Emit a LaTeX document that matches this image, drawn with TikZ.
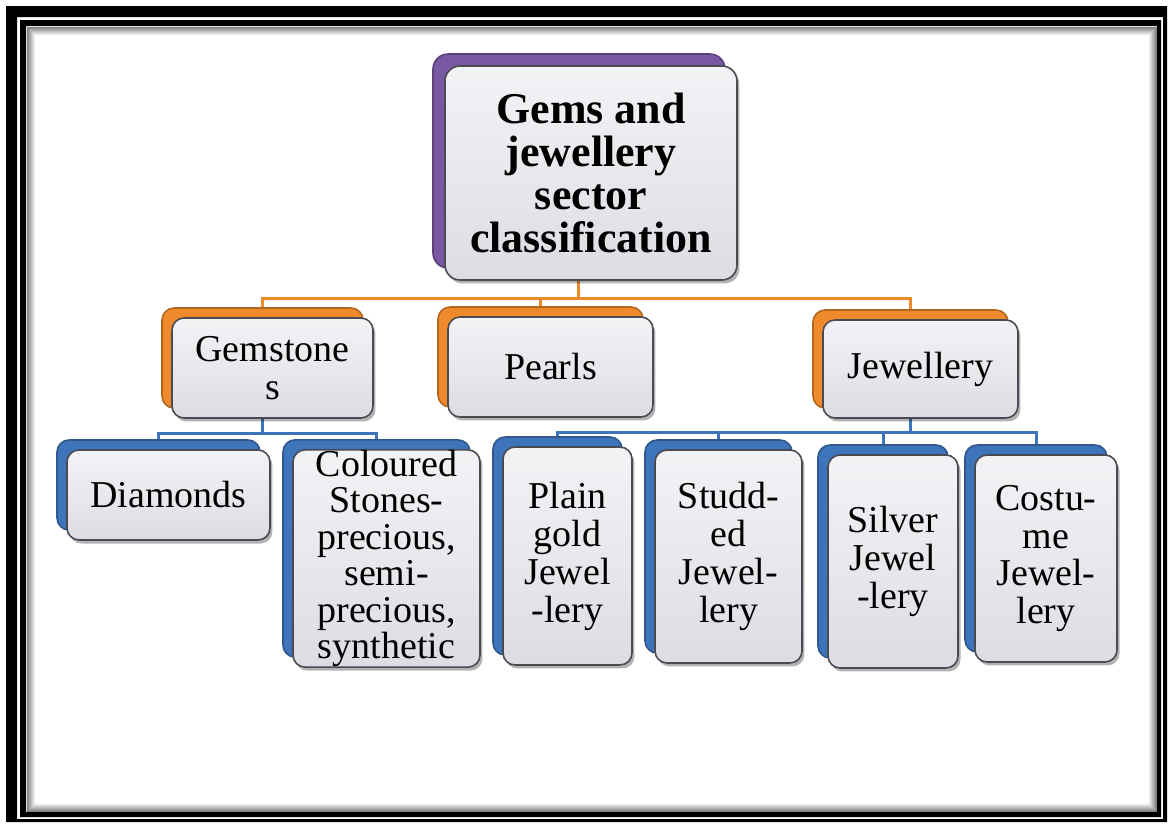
\documentclass[tikz,border=0pt]{standalone}
\usepackage{fontspec}
\setmainfont{Liberation Serif}
\usetikzlibrary{positioning,shadows,backgrounds}
\definecolor{rootPurple}{HTML}{7857A3}
\definecolor{levelOrange}{HTML}{EE8A2C}
\definecolor{leafBlue}{HTML}{3E74B9}
\definecolor{boxEdge}{HTML}{4A4B52}
\definecolor{boxTop}{HTML}{F3F3F6}
\definecolor{boxBottom}{HTML}{DCDDE3}
\tikzset{
    basebox/.style={draw=boxEdge,line width=0.9pt,top color=boxTop,bottom color=boxBottom,
        inner sep=0pt,align=center,
        drop shadow={shadow xshift=0.05cm,shadow yshift=-0.07cm,opacity=0.3,fill=black}},
    rootbox/.style={basebox,rounded corners=0.3cm,font=\fontsize{25}{24.3}\selectfont\bfseries,
        copy shadow={shadow xshift=-0.24cm,shadow yshift=0.24cm,fill=rootPurple,
            draw=rootPurple!75!black,line width=0.9pt}},
    levelbox/.style={basebox,rounded corners=0.24cm,font=\fontsize{21.6}{21.6}\selectfont,
        copy shadow={shadow xshift=-0.2cm,shadow yshift=0.2cm,fill=levelOrange,
            draw=levelOrange!75!black,line width=0.9pt}},
    leafbox/.style={basebox,rounded corners=0.24cm,font=\fontsize{21.6}{21.6}\selectfont,
        copy shadow={shadow xshift=-0.2cm,shadow yshift=0.2cm,fill=leafBlue,
            draw=leafBlue!75!black,line width=0.9pt}},
    orangelink/.style={draw=levelOrange,line width=1.7pt},
    bluelink/.style={draw=leafBlue,line width=1.7pt}
}
\begin{document}
\begin{tikzpicture}[x=0.02cm,y=-0.02cm]
    \useasboundingbox (0,0) rectangle (1172,825);
    \node[rootbox,minimum width=5.84cm,minimum height=4.28cm] (root) at (591,173) {Gems and\\jewellery\\sector\\classification};
    \node[levelbox,minimum width=4.02cm,minimum height=2cm] (gem) at (272.5,368) {Gemstone\\s};
    \node[levelbox,minimum width=4.1cm,minimum height=2cm] (pearl) at (550.5,367) {Pearls};
    \node[levelbox,minimum width=3.9cm,minimum height=1.96cm] (jewel) at (920.5,369) {Jewellery};
    \node[leafbox,minimum width=4.06cm,minimum height=1.8cm] (dia) at (168.5,495) {Diamonds};
    \node[leafbox,minimum width=3.74cm,minimum height=4.34cm,font=\fontsize{21.6}{20.8}\selectfont] (col) at (386.5,558.5) {Coloured\\Stones-\\precious,\\semi-\\precious,\\synthetic};
    \node[leafbox,minimum width=2.58cm,minimum height=4.36cm] (plain) at (567.5,556) {Plain\\gold\\Jewel\\-lery};
    \node[leafbox,minimum width=2.94cm,minimum height=4.26cm] (stud) at (728.5,556.5) {Studd-\\ed\\Jewel-\\lery};
    \node[leafbox,minimum width=2.6cm,minimum height=4.26cm] (silv) at (893,561.5) {Silver\\Jewel\\-lery};
    \node[leafbox,minimum width=2.84cm,minimum height=4.14cm] (cost) at (1046,558.5) {Costu-\\me\\Jewel-\\lery};
    \begin{scope}[on background layer]
        \fill[white] (0,0) rectangle (1172,825);
        % double frame with soft inner shade
        \fill[black,even odd rule] (6,6) rectangle (1167,822) (17,17) rectangle (1163,819);
        \fill[black,even odd rule] (20,20) rectangle (1161,817) (26,26) rectangle (1157,812);
        \foreach \i [evaluate=\i as \g using int(55-6*\i)] in {1,...,9}
            \draw[black!\g,line width=0.02cm] (26+\i,26+\i) rectangle (1157-\i,812-\i);
        \foreach \n in {gem,pearl,jewel}
            \draw[orangelink] ([xshift=-0.26cm]root.south) -- ++(0,18) -| ([xshift=-0.2cm]\n.north);
        \foreach \n in {dia,col}
            \draw[bluelink] ([xshift=-0.2cm]gem.south) -- ++(0,15) -| ([xshift=-0.2cm]\n.north);
        \foreach \n in {plain,stud,silv,cost}
            \draw[bluelink] ([xshift=-0.2cm]jewel.south) -- ++(0,14) -| ([xshift=-0.2cm]\n.north);
    \end{scope}
\end{tikzpicture}
\end{document}
